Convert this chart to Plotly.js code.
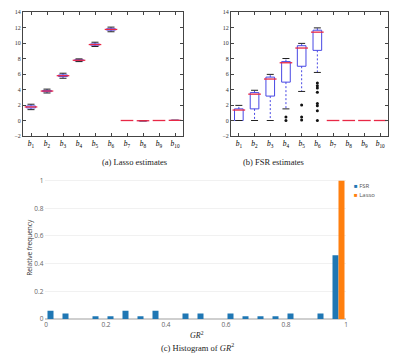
<!DOCTYPE html>
<html>
<head>
<meta charset="utf-8">
<script src="https://cdn.plot.ly/plotly-3.0.1.min.js"></script>
<style>
  html, body { margin: 0; padding: 0; background: #fff; }
  #chart { width: 393px; height: 359px; }
</style>
</head>
<body>
<div id="chart"></div>
<script>
// Coefficient labels b1..b10
const coefLabels = ['1', '2', '3', '4', '5', '6', '7', '8', '9', '10'];

// Lasso estimates: box-plot summary per coefficient
const lassoLower  = [1.40, 3.55, 5.45, 7.60, 9.55, 11.45, 0, -0.03, 0, 0.02];
const lassoQ1     = [1.62, 3.72, 5.67, 7.71, 9.72, 11.66, 0, -0.03, 0, 0.02];
const lassoMedian = [1.75, 3.80, 5.78, 7.77, 9.80, 11.75, 0, -0.03, 0, 0.02];
const lassoQ3     = [1.88, 3.88, 5.88, 7.84, 9.88, 11.84, 0, -0.03, 0, 0.02];
const lassoUpper  = [2.10, 4.05, 6.10, 7.95, 10.10, 12.05, 0, -0.03, 0, 0.02];
const lassoOutliers = [[], [], [], [], [], [], [], [], [], []];

// FSR estimates: box-plot summary per coefficient
const fsrLower  = [0.00, 0.00, 0.00, 1.50, 3.75, 6.20, 0, 0, 0, 0];
const fsrQ1     = [0.00, 1.50, 3.15, 4.95, 7.00, 9.05, 0, 0, 0, 0];
const fsrMedian = [1.35, 3.40, 5.35, 7.45, 9.35, 11.40, 0, 0, 0, 0];
const fsrQ3     = [1.50, 3.60, 5.60, 7.60, 9.65, 11.65, 0, 0, 0, 0];
const fsrUpper  = [1.95, 3.90, 5.95, 8.00, 9.95, 11.95, 0, 0, 0, 0];
const fsrOutliers = [[], [], [], [0.45, 0], [2.0, 0.45, 0.05],
                     [4.85, 4.5, 4.2, 3.65, 2.2, 1.9, 1.25, 0], [], [], [], []];

// Histogram of GR^2: bin centres (width 0.05) and relative frequencies
const binCenters = [0.025, 0.075, 0.125, 0.175, 0.225, 0.275, 0.325, 0.375, 0.425, 0.475,
                    0.525, 0.575, 0.625, 0.675, 0.725, 0.775, 0.825, 0.875, 0.925, 0.975];
const fsrFreq   = [0.06, 0.04, 0, 0.02, 0.02, 0.06, 0.02, 0.06, 0, 0.04,
                   0.04, 0, 0.04, 0.02, 0.02, 0.02, 0.04, 0, 0.04, 0.46];
const lassoFreq = [0, 0, 0, 0, 0, 0, 0, 0, 0, 0,
                   0, 0, 0, 0, 0, 0, 0, 0, 0, 1.0];
const freqTicks = [0, 0.2, 0.4, 0.6, 0.8, 1];
const freqTickText = ['0', '0.2', '0.4', '0.6', '0.8', '1'];

const BOX_BLUE = 'rgb(72,72,228)';
const MED_RED = 'rgb(232,40,70)';
const CAP_DARK = '#222';

// Build the traces of one box-plot panel from its summary arrays
function boxPanel(lower, q1, med, q3, upper, outliers, xa, ya) {
  const idx = coefLabels.map((_, i) => i);
  const traces = [];
  // boxes (q1..q3)
  traces.push({
    type: 'bar', x: idx, base: q1, y: q3.map((v, i) => v - q1[i]),
    width: 0.55, xaxis: xa, yaxis: ya, showlegend: false, hoverinfo: 'skip',
    marker: { color: 'rgba(0,0,0,0)', line: { color: BOX_BLUE, width: 1 } }
  });
  // dashed whiskers
  const wx = [], wy = [];
  idx.forEach(i => {
    wx.push(i, i, null, i, i, null);
    wy.push(q3[i], upper[i], null, q1[i], lower[i], null);
  });
  traces.push({
    type: 'scatter', mode: 'lines', x: wx, y: wy, xaxis: xa, yaxis: ya,
    showlegend: false, hoverinfo: 'skip',
    line: { color: BOX_BLUE, width: 1, dash: '2px,2px' }
  });
  // whisker caps
  traces.push({
    type: 'scatter', mode: 'markers', x: idx.concat(idx), y: lower.concat(upper),
    xaxis: xa, yaxis: ya, showlegend: false, hoverinfo: 'skip',
    marker: { symbol: 'line-ew', size: 5, line: { color: CAP_DARK, width: 1 } }
  });
  // medians
  traces.push({
    type: 'scatter', mode: 'markers', x: idx, y: med, xaxis: xa, yaxis: ya,
    showlegend: false, hoverinfo: 'skip',
    marker: { symbol: 'line-ew', size: 9, line: { color: MED_RED, width: 1.3 } }
  });
  // outliers
  const ox = [], oy = [];
  outliers.forEach((arr, i) => arr.forEach(v => { ox.push(i); oy.push(v); }));
  traces.push({
    type: 'scatter', mode: 'markers', x: ox, y: oy, xaxis: xa, yaxis: ya,
    showlegend: false, hoverinfo: 'skip',
    marker: { symbol: 'circle', size: 3, color: '#111' }
  });
  return traces;
}

const data = []
  .concat(boxPanel(lassoLower, lassoQ1, lassoMedian, lassoQ3, lassoUpper, lassoOutliers, 'x', 'y'))
  .concat(boxPanel(fsrLower, fsrQ1, fsrMedian, fsrQ3, fsrUpper, fsrOutliers, 'x2', 'y2'));

data.push({
  type: 'bar', name: 'FSR', x: binCenters, y: fsrFreq, width: 0.02, offset: -0.02,
  xaxis: 'x3', yaxis: 'y3', marker: { color: '#1f77b4' }, showlegend: false
});
data.push({
  type: 'bar', name: 'Lasso', x: binCenters, y: lassoFreq, width: 0.02, offset: 0,
  xaxis: 'x3', yaxis: 'y3', marker: { color: '#ff7f0e' }, showlegend: false
});

const serif = 'Liberation Serif, DejaVu Serif, serif';
const sans = 'Open Sans, sans-serif';
const tickText = coefLabels.map(s => '<i>b</i><sub>' + s + '</sub>');

function boxX(domain) {
  return {
    domain: domain, range: [-0.5, 9.5], tickmode: 'array',
    tickvals: coefLabels.map((_, i) => i), ticktext: tickText,
    ticks: 'inside', ticklen: 3, tickcolor: '#444',
    showline: true, linecolor: '#444', linewidth: 1, mirror: 'ticks',
    showgrid: false, zeroline: false,
    tickfont: { family: serif, size: 7.5, color: '#000000' }
  };
}
function boxY(domain) {
  return {
    domain: domain, range: [-2, 14], tickmode: 'array',
    tickvals: [-2, 0, 2, 4, 6, 8, 10, 12, 14],
    ticks: 'inside', ticklen: 3, tickcolor: '#444',
    showline: true, linecolor: '#444', linewidth: 1, mirror: 'ticks',
    showgrid: false, zeroline: false,
    tickfont: { family: serif, size: 6, color: '#333' }
  };
}

const W = 393, H = 359;
const px = v => v / W, py = v => (H - v) / H;

const layout = {
  width: W, height: H,
  margin: { l: 0, r: 0, t: 0, b: 0 },
  paper_bgcolor: '#fff', plot_bgcolor: '#fff',
  barmode: 'overlay',
  showlegend: false,
  xaxis: boxX([px(23), px(183)]),
  yaxis: boxY([py(136), py(12)]),
  xaxis2: Object.assign(boxX([px(231), px(388)]), { anchor: 'y2' }),
  yaxis2: Object.assign(boxY([py(136), py(12)]), { anchor: 'x2' }),
  xaxis3: {
    domain: [px(44.5), px(346)], anchor: 'y3', range: [-0.005, 1.0],
    tickmode: 'array', tickvals: freqTicks, ticktext: freqTickText,
    showgrid: false, zeroline: false, showline: false, ticks: '',
    tickfont: { family: sans, size: 6.5, color: '#666' }
  },
  yaxis3: {
    domain: [py(319), py(176.5)], anchor: 'x3', range: [0, 1.03],
    tickmode: 'array', tickvals: freqTicks, ticktext: freqTickText,
    showgrid: true, gridcolor: '#f1f1f1', gridwidth: 1,
    zeroline: true, zerolinecolor: '#cfcfcf', zerolinewidth: 1.5,
    showline: false, ticks: '',
    tickfont: { family: sans, size: 6.5, color: '#666' },
    title: { text: 'Relative frequency', standoff: 1,
             font: { family: sans, size: 6.5, color: '#333' } }
  },
  annotations: [
    { text: '(a) Lasso estimates', x: px(100), y: py(162), xref: 'paper', yref: 'paper',
      showarrow: false, font: { family: serif, size: 8.5, color: '#222' } },
    { text: '(b) FSR estimates', x: px(306), y: py(162), xref: 'paper', yref: 'paper',
      showarrow: false, font: { family: serif, size: 8.5, color: '#222' } },
    { text: '<i>GR</i><sup>2</sup>', x: px(197), y: py(342), xref: 'paper', yref: 'paper',
      showarrow: false, font: { family: serif, size: 8, color: '#222' } },
    { text: '(c) Histogram of <i>GR</i><sup>2</sup>', x: px(197), y: py(355), xref: 'paper', yref: 'paper',
      showarrow: false, font: { family: serif, size: 8.5, color: '#222' } },
    { text: '<span style="color:#1f77b4">■</span> FSR', x: px(352), y: py(186), xref: 'paper', yref: 'paper',
      xanchor: 'left', showarrow: false, font: { family: sans, size: 6, color: '#555' } },
    { text: '<span style="color:#ff7f0e">■</span> Lasso', x: px(352), y: py(195), xref: 'paper', yref: 'paper',
      xanchor: 'left', showarrow: false, font: { family: sans, size: 6, color: '#555' } }
  ]
};

Plotly.newPlot('chart', data, layout, { displayModeBar: false, staticPlot: true });
</script>
</body>
</html>
